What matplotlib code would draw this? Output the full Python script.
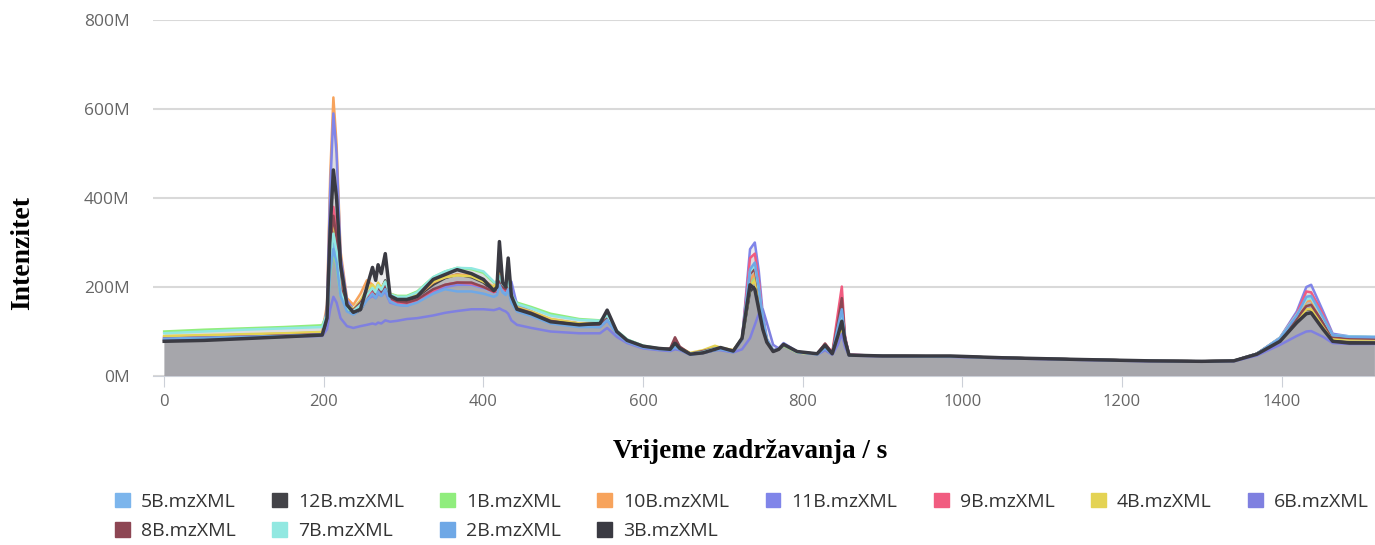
import numpy as np
import matplotlib.pyplot as plt
from matplotlib.patches import Patch

# retention time points (s)
rt = [0, 50, 100, 150, 198,
      204, 208, 212, 216, 221, 229, 237, 246,
      254, 261, 265, 268, 272, 277, 283, 292,
      304, 317, 337, 352, 367, 385, 400, 413,
      417, 420, 424, 428, 431, 435, 442, 460,
      484, 520, 546, 555, 567, 580, 600, 620,
      634, 640, 646, 659, 675, 690, 697, 713,
      724, 734, 740, 745, 750, 755, 763, 770,
      776, 793, 818, 828, 837, 844, 849, 853,
      858, 900, 985, 1050, 1150, 1236, 1300, 1340,
      1369, 1398, 1419, 1431, 1437, 1452, 1464, 1485, 1516]

# intensities in millions, one list per sample
s5B = [88, 90, 92, 94, 97,
       135, 245, 300, 265, 185, 150, 142, 155,
       175, 190, 180, 195, 186, 200, 175, 168,
       165, 172, 195, 205, 205, 205, 198, 186,
       190, 210, 195, 188, 200, 170, 150, 140,
       124, 114, 114, 128, 97, 78, 65, 60,
       58, 64, 60, 49, 54, 60, 62, 55,
       82, 235, 245, 195, 128, 82, 56, 60,
       70, 54, 49, 62, 50, 100, 145, 82,
       47, 45, 44, 41, 37, 34, 33, 34,
       50, 84, 132, 170, 172, 128, 90, 87, 86]
s12B = [82, 84, 88, 92, 96,
        120, 260, 330, 290, 190, 150, 140, 148,
        175, 200, 190, 205, 195, 215, 170, 165,
        168, 178, 205, 220, 228, 222, 210, 190,
        190, 240, 200, 192, 215, 170, 150, 140,
        125, 118, 120, 140, 100, 80, 66, 61,
        60, 70, 60, 50, 52, 58, 62, 56,
        82, 190, 200, 160, 110, 78, 56, 60,
        70, 54, 50, 66, 52, 95, 130, 80,
        47, 45, 44, 41, 37, 34, 33, 34,
        50, 82, 125, 150, 148, 110, 80, 76, 75]
s1B = [100, 104, 107, 110, 114,
       140, 230, 280, 250, 180, 150, 145, 158,
       180, 200, 190, 205, 195, 210, 185, 180,
       180, 190, 222, 235, 243, 240, 232, 210,
       205, 225, 205, 200, 215, 185, 165, 155,
       140, 128, 125, 135, 102, 82, 68, 62,
       60, 66, 61, 50, 54, 62, 62, 57,
       85, 200, 220, 180, 120, 80, 57, 60,
       68, 53, 49, 62, 50, 80, 110, 75,
       47, 45, 44, 41, 37, 34, 33, 34,
       50, 85, 130, 158, 160, 120, 88, 86, 86]
s10B = [88, 90, 93, 95, 98,
        160, 450, 626, 520, 280, 175, 160, 185,
        215, 205, 190, 200, 190, 200, 180, 175,
        172, 180, 210, 222, 228, 226, 215, 200,
        215, 230, 210, 200, 212, 180, 155, 145,
        128, 118, 116, 132, 98, 80, 66, 61,
        60, 68, 62, 50, 56, 66, 63, 58,
        84, 215, 230, 185, 125, 82, 56, 60,
        70, 53, 49, 64, 50, 100, 140, 80,
        47, 45, 44, 41, 37, 34, 33, 34,
        50, 84, 135, 168, 170, 125, 90, 86, 86]
s11B = [86, 88, 90, 92, 95,
        150, 420, 590, 500, 270, 170, 150, 168,
        172, 180, 175, 185, 180, 190, 165, 160,
        158, 168, 190, 200, 205, 205, 198, 192,
        195, 200, 198, 200, 205, 212, 160, 145,
        125, 112, 110, 125, 96, 78, 64, 60,
        58, 64, 60, 49, 54, 60, 60, 55,
        82, 285, 300, 235, 140, 84, 58, 62,
        72, 54, 49, 62, 50, 105, 150, 85,
        48, 45, 44, 41, 37, 34, 33, 34,
        50, 86, 145, 200, 205, 145, 95, 89, 88]
s9B = [85, 87, 89, 91, 94,
       130, 300, 380, 330, 210, 155, 145, 160,
       180, 190, 180, 195, 185, 200, 170, 165,
       162, 170, 192, 205, 210, 208, 200, 188,
       192, 215, 198, 192, 205, 172, 150, 140,
       122, 112, 112, 128, 96, 78, 65, 60,
       60, 80, 64, 50, 56, 62, 62, 56,
       84, 265, 275, 215, 130, 80, 56, 60,
       72, 54, 49, 72, 52, 140, 201, 90,
       48, 45, 44, 41, 37, 34, 33, 34,
       50, 86, 140, 190, 188, 138, 92, 88, 87]
s4B = [90, 92, 94, 96, 99,
       140, 280, 350, 300, 200, 160, 150, 170,
       195, 205, 195, 210, 198, 212, 185, 178,
       175, 183, 212, 222, 226, 224, 212, 200,
       210, 225, 210, 200, 210, 178, 155, 145,
       128, 118, 116, 132, 98, 80, 66, 61,
       60, 68, 64, 52, 58, 68, 64, 58,
       84, 200, 215, 175, 118, 80, 56, 60,
       70, 53, 49, 62, 50, 80, 110, 75,
       47, 45, 44, 41, 37, 34, 33, 34,
       50, 82, 120, 150, 150, 112, 84, 82, 82]
s6B = [82, 84, 86, 88, 90,
       105, 150, 178, 165, 130, 112, 108, 112,
       115, 118, 116, 120, 118, 125, 122, 124,
       128, 130, 136, 142, 146, 150, 150, 148,
       150, 152, 148, 145, 140, 125, 115, 108,
       100, 96, 96, 108, 88, 74, 62, 58,
       56, 60, 58, 48, 52, 58, 58, 53,
       60, 85, 115, 140, 150, 120, 70, 62,
       74, 55, 48, 58, 48, 70, 95, 65,
       46, 44, 43, 40, 36, 33, 32, 33,
       46, 70, 90, 100, 101, 88, 74, 72, 72]
s8B = [84, 86, 88, 91, 94,
       130, 290, 360, 310, 200, 155, 148, 165,
       185, 195, 185, 200, 188, 205, 175, 168,
       165, 172, 195, 205, 210, 210, 200, 190,
       195, 215, 200, 195, 210, 175, 152, 142,
       124, 114, 114, 130, 97, 79, 66, 61,
       62, 87, 66, 50, 56, 62, 62, 56,
       84, 230, 240, 190, 125, 80, 56, 60,
       70, 54, 50, 73, 52, 120, 175, 85,
       47, 45, 44, 41, 37, 34, 33, 34,
       50, 84, 130, 157, 160, 120, 88, 85, 84]
s7B = [96, 100, 104, 107, 110,
       140, 260, 320, 280, 190, 152, 146, 160,
       182, 198, 188, 204, 194, 212, 184, 178,
       178, 188, 222, 235, 243, 242, 235, 212,
       208, 225, 206, 200, 212, 182, 162, 152,
       136, 126, 124, 136, 102, 82, 68, 62,
       60, 66, 61, 50, 54, 62, 62, 57,
       85, 235, 250, 195, 128, 82, 57, 60,
       70, 53, 49, 64, 50, 95, 140, 80,
       47, 45, 44, 41, 37, 34, 33, 34,
       50, 86, 138, 172, 175, 130, 92, 89, 88]
s2B = [84, 86, 88, 90, 93,
       130, 235, 285, 255, 180, 145, 138, 150,
       170, 185, 175, 190, 180, 195, 168, 160,
       158, 165, 185, 195, 190, 190, 185, 178,
       182, 205, 188, 182, 195, 165, 145, 135,
       118, 110, 110, 126, 95, 77, 64, 60,
       58, 64, 60, 48, 52, 58, 60, 54,
       82, 240, 255, 200, 130, 82, 56, 60,
       72, 54, 49, 62, 50, 110, 150, 85,
       47, 45, 44, 41, 37, 34, 33, 34,
       50, 85, 136, 178, 180, 132, 92, 88, 87]
s3B = [78, 80, 84, 88, 92,
       130, 330, 463, 400, 250, 160, 143, 150,
       200, 244, 215, 250, 230, 275, 180, 172,
       172, 179, 217, 228, 239, 230, 217, 192,
       200, 302, 210, 200, 265, 180, 150, 140,
       122, 115, 118, 148, 100, 80, 67, 62,
       60, 74, 62, 49, 52, 60, 64, 56,
       85, 205, 195, 150, 105, 76, 55, 60,
       71, 55, 50, 69, 50, 90, 123, 80,
       47, 45, 45, 41, 37, 34, 33, 34,
       49, 78, 120, 140, 142, 105, 78, 74, 74]

names = ["5B.mzXML", "12B.mzXML", "1B.mzXML", "10B.mzXML", "11B.mzXML", "9B.mzXML",
         "4B.mzXML", "6B.mzXML", "8B.mzXML", "7B.mzXML", "2B.mzXML", "3B.mzXML"]
series = [s5B, s12B, s1B, s10B, s11B, s9B, s4B, s6B, s8B, s7B, s2B, s3B]
colors = ["#7cb5ec", "#434348", "#90ed7d", "#f7a35c", "#8085e9", "#f15c80",
          "#e4d354", "#7f80e0", "#8d4653", "#91e8e1", "#6fa8e6", "#3a3a42"]

fig = plt.figure(figsize=(13.75, 5.45), dpi=100)
ax = fig.add_axes([153/1375, 1 - 376/545, 1 - 153/1375, (376 - 20)/545])

for vals, col, name in zip(series, colors, names):
    ax.fill_between(rt, vals, 0, color="#a2a1a7", alpha=0.2, lw=0)
    lw = 2.5 if name == "3B.mzXML" else 1.8
    ax.plot(rt, vals, color=col, lw=lw, solid_joinstyle="round")

ax.set_xlim(-14, 1517)
ax.set_ylim(0, 800)
ax.set_yticks([0, 200, 400, 600, 800])
ax.set_yticklabels(["0M", "200M", "400M", "600M", "800M"])
ax.set_xticks([0, 200, 400, 600, 800, 1000, 1200, 1400])
ax.grid(axis="y", color="#d9d9d9", lw=1.5)
ax.set_axisbelow(True)
for sp in ["top", "right", "left"]:
    ax.spines[sp].set_visible(False)
ax.spines["bottom"].set_color("#ccd0d8")
ax.tick_params(axis="y", length=0, pad=17, labelsize=12.5, labelcolor="#666666")
ax.tick_params(axis="x", length=8, color="#ccd0d8", pad=5, labelsize=12, labelcolor="#666666")
for lab in ax.get_xticklabels() + ax.get_yticklabels():
    lab.set_family("Open Sans")

fig.text(750/1375, 1 - 452/545, "Vrijeme zadržavanja / s", ha="center", va="center",
         family="Liberation Serif", weight="bold", fontsize=19.5)
fig.text(23/1375, 1 - 253/545, "Intenzitet", ha="center", va="center", rotation=90,
         family="Liberation Serif", weight="bold", fontsize=20)

# legend: row-wise order in 8 columns
order = [0, 8, 1, 9, 2, 10, 3, 11, 4, 5, 6, 7]
handles = [Patch(color=colors[i]) for i in order]
labels = [names[i] for i in order]
fig.legend(handles, labels, ncol=8, loc="upper left", bbox_to_anchor=(115/1375, 1 - 493/545),
           frameon=False, prop={"family": "Open Sans", "size": 14}, labelcolor="#333333",
           handlelength=0.77, handleheight=0.77, handletextpad=0.57, columnspacing=1.86,
           labelspacing=0.57, borderpad=0, borderaxespad=0)

fig.savefig("out.png", dpi=100)
